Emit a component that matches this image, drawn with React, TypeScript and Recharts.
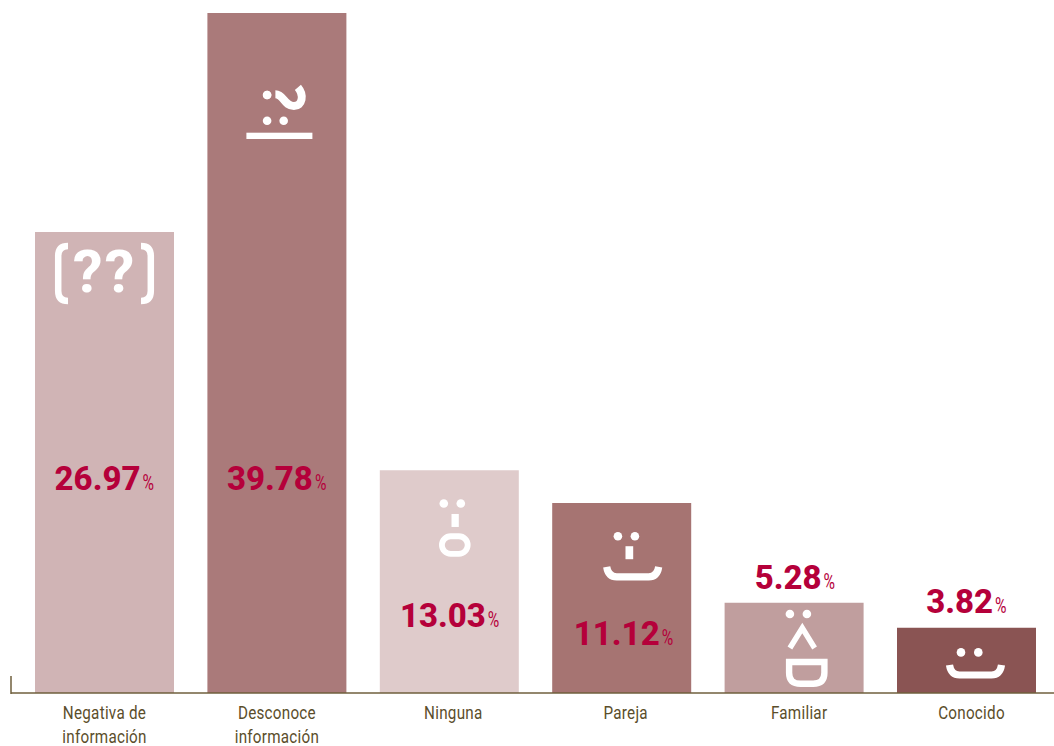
import { Bar, BarChart, Cell, LabelList, XAxis, YAxis, usePlotArea } from "recharts";

const categories = [
	"Negativa de información",
	"Desconoce información",
	"Ninguna",
	"Pareja",
	"Familiar",
	"Conocido",
];
const shares = [26.97, 39.78, 13.03, 11.12, 5.28, 3.82];
const barColors = ["#d0b4b5", "#aa7a7a", "#dfcbcb", "#a67472", "#c09e9e", "#8a5453"];

// where each value label and category label sits, relative to its bar
const labelShiftX = [1, 1, 1.5, 3, -7.5, -8.5];
const labelBaselineFromTop = [258, 477, 157, 142, -14, -15];
const tickShiftX = [0, 0, 4, 4, 5, 5];

const WINE = "#b5003a";
const AXIS = "#6f5f3c";
const TICK_TEXT = "#5b4e2b";
const FONT = "Roboto, sans-serif";

function Dots({ x1, x2, y }: { x1: number; x2: number; y: number }) {
	return (
		<g fill="#fff">
			<circle cx={x1} cy={y} r={4.3} />
			<circle cx={x2} cy={y} r={4.3} />
		</g>
	);
}

// Sideways emoticons, drawn from the bar's top centre
function Face({ index }: { index: number }) {
	const line = { fill: "none", stroke: "#fff" };
	if (index === 0) {
		return (
			<g>
				<path d="M-36.5 14 Q-46.3 14 -46.3 24 V59 Q-46.3 69 -36.5 69" {...line} strokeWidth={6.5} />
				<path d="M36.5 14 Q46.3 14 46.3 24 V59 Q46.3 69 36.5 69" {...line} strokeWidth={6.5} />
				<text x={0} y={60} textAnchor="middle" fill="#fff" fontFamily={FONT} fontWeight={700} fontSize={60} letterSpacing={2}>
					??
				</text>
			</g>
		);
	}
	if (index === 1) {
		return (
			<g>
				<Dots x1={-9.8} x2={-9.8} y={82} />
				<Dots x1={-9.8} x2={6.8} y={107.7} />
				<path d="M-1.5 81.3 C7 81.3 7 93 17 93 C25.5 93 27.5 82 21 74.3" {...line} strokeWidth={8} />
				<rect x={-30.5} y={119.7} width={66} height={6.3} fill="#fff" />
			</g>
		);
	}
	if (index === 2) {
		return (
			<g>
				<Dots x1={-5.5} x2={11.5} y={33.3} />
				<rect x={2.2} y={43.7} width={7.3} height={13} fill="#fff" />
				<rect x={-7.4} y={66} width={25.8} height={17.6} rx={8.8} {...line} strokeWidth={5.8} />
			</g>
		);
	}
	if (index === 3) {
		return (
			<g>
				<Dots x1={-3.8} x2={13.2} y={33.3} />
				<rect x={3.8} y={43.3} width={7.7} height={13} fill="#fff" />
				<path d="M-15 64 C-14 70.5 -11 74 -5 74 H27 C33 74 36 70.5 37 64" {...line} strokeWidth={7.2} />
			</g>
		);
	}
	if (index === 4) {
		return (
			<g>
				<Dots x1={-4.2} x2={12.8} y={11.3} />
				<path d="M-4.2 45.3 L8.2 25.3 L20.5 45.3" {...line} strokeWidth={5.5} />
				<path d="M-5 59.3 H30.3 V70 Q30.3 81 19 81 H6.5 Q-5 81 -5 70 Z" {...line} strokeWidth={6.4} />
			</g>
		);
	}
	return (
		<g>
			<Dots x1={-5.5} x2={11.8} y={24.7} />
			<path d="M-17 37.3 C-16 43.8 -13 47.3 -7 47.3 H25 C31 47.3 34 43.8 35 37.3" {...line} strokeWidth={7.2} />
		</g>
	);
}

function FaceLabel(props: any) {
	const { x, y, width, index } = props;
	return (
		<g transform={`translate(${x + width / 2}, ${y})`}>
			<Face index={index} />
		</g>
	);
}

function ValueLabel(props: any) {
	const { x, y, width, index, value } = props;
	const cx = x + width / 2 + labelShiftX[index];
	const baseline = y + labelBaselineFromTop[index];
	return (
		<g fill={WINE} fontFamily={FONT}>
			<text x={cx + 35} y={baseline} textAnchor="end" fontSize={33} fontWeight={800}>
				{Number(value).toFixed(2)}
			</text>
			<text x={cx + 37} y={baseline} fontSize={22} fontWeight={400} textLength={11.5} lengthAdjust="spacingAndGlyphs">
				%
			</text>
		</g>
	);
}

function CategoryTick(props: any) {
	const { x, index, payload } = props;
	const label: string = payload.value;
	const cut = label.lastIndexOf(" ");
	const rows = cut < 0 ? [label] : [label.slice(0, cut), label.slice(cut + 1)];
	const tx = x + tickShiftX[index];
	// Roboto squeezed horizontally to get a condensed look
	return (
		<text transform={`translate(${tx}, 719) scale(0.87, 1)`} textAnchor="middle" fill={TICK_TEXT} fontFamily={FONT} fontSize={17.5} letterSpacing={0.3}>
			{rows.map((row, i) => (
				<tspan key={row} x={0} dy={i === 0 ? 0 : 24}>
					{row}
				</tspan>
			))}
		</text>
	);
}

// Short upright stroke closing the left end of the baseline
function AxisStub() {
	const plot = usePlotArea();
	if (!plot) return null;
	const bottom = plot.y + plot.height;
	return <line x1={plot.x} x2={plot.x} y1={bottom - 17} y2={bottom + 1} stroke={AXIS} strokeWidth={1.5} />;
}

const rows = categories.map((name, i) => ({ name, share: shares[i] }));

export default function App() {
	return (
		<div style={{ position: "absolute", left: 0, top: 0, width: 1054, height: 746, overflow: "hidden", background: "#fff" }}>
			<BarChart
				width={1054}
				height={746}
				data={rows}
				margin={{ top: 13, right: 0, bottom: 0, left: 11 }}
				barCategoryGap={16.7}
			>
				<XAxis
					dataKey="name"
					interval={0}
					padding={{ left: 7.3, right: 1.3 }}
					axisLine={{ stroke: AXIS, strokeWidth: 1.5 }}
					tickLine={false}
					tick={<CategoryTick />}
					height={53}
				/>
				<YAxis hide domain={[0, 39.78]} />
				<Bar dataKey="share" isAnimationActive={false}>
					{rows.map((row, i) => (
						<Cell key={row.name} fill={barColors[i]} />
					))}
					<LabelList dataKey="share" content={<FaceLabel />} />
					<LabelList dataKey="share" content={<ValueLabel />} />
				</Bar>
				<AxisStub />
			</BarChart>
		</div>
	);
}
